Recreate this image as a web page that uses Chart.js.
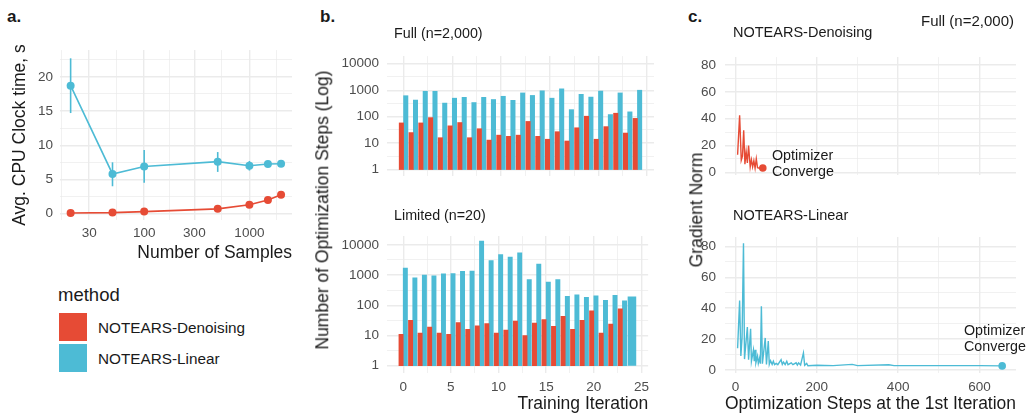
<!DOCTYPE html>
<html>
<head>
<meta charset="utf-8">
<script src="https://cdn.jsdelivr.net/npm/chart.js@4.4.1/dist/chart.umd.min.js"></script>
<style>
  body { margin: 0; width: 1028px; height: 415px; background: #fff; position: relative; overflow: hidden;
         font-family: 'Liberation Sans', Arial, sans-serif; color: #1a1a1a; }
  .box { position: absolute; z-index: 1; }
  .txt { position: absolute; z-index: 2; white-space: nowrap; line-height: 1; transform: translateY(-50%); }
  .rot { position: absolute; z-index: 2; white-space: nowrap; line-height: 1; transform: translate(-50%, -50%) rotate(-90deg); font-size: 17.5px; }
  .tag { font-weight: bold; font-size: 17px; }
  .strip { font-size: 14.3px; }
  .swatch { position: absolute; width: 28px; height: 28px; }
</style>
</head>
<body>
<!-- panel letters and strip labels -->
<div class="txt tag" style="left:7px; top:16px">a.</div>
<div class="txt tag" style="left:320px; top:16px">b.</div>
<div class="txt tag" style="left:688px; top:16px">c.</div>
<div class="txt strip" style="left:394px; top:33px">Full (n=2,000)</div>
<div class="txt strip" style="left:394px; top:215px">Limited (n=20)</div>
<div class="txt strip" style="left:733px; top:32px; font-size:14.5px">NOTEARS-Denoising</div>
<div class="txt strip" style="left:733px; top:215px; font-size:14.5px">NOTEARS-Linear</div>
<div class="txt strip" style="right:14px; top:20px; font-size:15px">Full (n=2,000)</div>
<div class="rot" style="left:323px; top:210px">Number of Optimization Steps (Log)</div>
<div class="rot" style="left:697px; top:210px">Gradient Norm</div>

<!-- annotations -->
<div class="txt strip" style="left:772px; top:155px">Optimizer</div>
<div class="txt strip" style="left:772px; top:171px">Converge</div>
<div class="txt strip" style="left:964px; top:330px">Optimizer</div>
<div class="txt strip" style="left:964px; top:346px">Converge</div>

<!-- legend -->
<div class="txt" style="left:58px; top:295px; font-size:18.5px">method</div>
<div class="swatch" style="left:59px; top:313px; background:#E64B35"></div>
<div class="swatch" style="left:59px; top:344px; background:#4DBBD5"></div>
<div class="txt" style="left:98px; top:328px; font-size:15.3px">NOTEARS-Denoising</div>
<div class="txt" style="left:98px; top:359px; font-size:15.3px">NOTEARS-Linear</div>

<div class="box" style="left:0px; top:35px; width:300px; height:230px"><canvas id="cpuChart"></canvas></div>
<div class="box" style="left:330px; top:40px; width:325px; height:152px"><canvas id="fullChart"></canvas></div>
<div class="box" style="left:330px; top:220px; width:325px; height:195px"><canvas id="limitedChart"></canvas></div>
<div class="box" style="left:665px; top:40px; width:355px; height:152px"><canvas id="denoGradChart"></canvas></div>
<div class="box" style="left:665px; top:220px; width:355px; height:195px"><canvas id="linGradChart"></canvas></div>

<script>
// ---- data ----
// panel a: CPU time vs number of samples
const samples = [20, 50, 100, 500, 1000, 1500, 2000];
const denoTime = [0.1, 0.15, 0.3, 0.7, 1.3, 2.0, 2.75];
const linearTime = [18.7, 5.8, 6.9, 7.6, 7.0, 7.25, 7.3];
const linearLow = [14.7, 4.0, 4.5, 6.1, 6.3, 7.0, 7.1];
const linearHigh = [22.7, 7.5, 9.3, 9.0, 7.7, 7.55, 7.5];
const sampleTicks = [30, 100, 300, 1000];
const timeTicks = [0, 5, 10, 15, 20];

// panel b: optimization steps per training iteration
const iterations = [0, 1, 2, 3, 4, 5, 6, 7, 8, 9, 10, 11, 12, 13, 14, 15, 16, 17, 18, 19, 20, 21, 22, 23, 24];
const fullDeno = [58, 25, 58, 92, 16, 45, 60, 16, 35, 13, 20, 18, 20, 66, 18, 14, 27, 12, 38, 104, 14, 42, 135, 24, 86];
const fullLinear = [620, 424, 910, 910, 326, 500, 537, 342, 537, 445, 590, 414, 790, 635, 950, 500, 1127, 184, 700, 550, 930, 120, 790, 152, 1000];
const limitedDeno = [11, 32, 12, 19, 12, 11, 27, 16, 21, 25, 12, 15, 30, 10, 26, 34, 20, 43, 16, 32, 66, 12, 24, 77, null];
const limitedLinear = [1700, 806, 1000, 953, 1100, 1127, 1334, 1366, 13300, 3015, 4750, 3930, 5500, 714, 2320, 590, 714, 200, 221, 182, 205, 147, 215, 140, 196];
const stepTicks = [1, 10, 100, 1000, 10000];
const iterTicks = [0, 5, 10, 15, 20, 25];

// panel c: gradient norm along the first iteration
const denoSteps = [5, 10, 14, 17, 20, 23, 26, 29, 32, 36, 39, 42, 45, 48, 51, 54, 59, 67];
const denoGrad = [13, 42.6, 9, 12, 31.4, 6, 15.4, 7, 20, 4, 9.4, 4, 8.6, 3, 10, 3.4, 3, 3.2];
const linSteps = [5, 10, 13, 16, 19.5, 22, 25, 29, 32, 37, 39, 44, 46, 48, 50, 54, 56, 59, 61, 63.5, 66, 73, 76, 80.5, 83, 86, 90, 93, 96,
  100, 104, 112, 115, 118, 122, 126, 129, 137, 141, 149, 152, 155, 160, 167, 170, 175, 178, 200, 240, 287, 300, 377, 390, 500, 600, 656];
const linGrad = [14, 45, 9, 21, 82, 7, 16, 27.7, 6.6, 26.7, 5.6, 13, 5.6, 13, 4.6, 9, 4.2, 7.6, 4, 41.2, 4, 20.7, 3.6, 18.7, 3.6, 6, 3.6, 5.6, 3.4,
  4.2, 3.4, 6.6, 3.6, 5, 3.4, 5.6, 3.4, 4.6, 3.4, 4.6, 3.2, 4.6, 3.2, 11, 3, 4.2, 2.7, 3, 2.8, 3.6, 2.8, 3.3, 2.8, 2.8, 2.8, 2.6];
const gradTicks = [0, 20, 40, 60, 80];
const optStepTicks = [0, 200, 400, 600];

// ---- styling ----
const RED = '#E64B35';
const BLUE = '#4DBBD5';
const GRID = '#ebebeb';
const INK = '#1a1a1a';
const DODGE = 0.225;

Chart.defaults.font.family = "'Liberation Sans', Arial, sans-serif";
Chart.defaults.color = '#4d4d4d';
Chart.defaults.animation = false;

// ggplot style minor breaks: midpoints between majors (geometric on log axes)
function minorsOf(majors, log) {
  const mid = (a, b) => log ? Math.sqrt(a * b) : (a + b) / 2;
  const out = [];
  const first = log ? majors[0] * majors[0] / majors[1] : 2 * majors[0] - majors[1];
  const n = majors.length;
  const last = log ? majors[n - 1] * majors[n - 1] / majors[n - 2] : 2 * majors[n - 1] - majors[n - 2];
  const all = [first].concat(majors, [last]);
  for (let i = 0; i < all.length - 1; i++) out.push(mid(all[i], all[i + 1]));
  return out;
}

function axis(o) {
  const log = o.type === 'logarithmic';
  const minors = minorsOf(o.majors, log);
  const cfg = {
    type: o.type || 'linear',
    min: o.min,
    max: o.max,
    offset: false,
    border: { display: false },
    grid: {
      color: GRID,
      offset: false,
      drawTicks: false,
      lineWidth: c => (c.tick && o.majors.includes(c.tick.value)) ? 1.4 : 0.7
    },
    ticks: {
      display: o.labels !== false,
      autoSkip: false,
      maxRotation: 0,
      padding: o.tickPad || 6,
      color: '#4d4d4d',
      font: { size: 13.5 },
      callback: v => o.majors.includes(v) ? String(v) : ''
    },
    afterBuildTicks: s => {
      s.ticks = o.majors.concat(minors)
        .filter(v => v >= s.min && v <= s.max)
        .sort((a, b) => a - b)
        .map(v => ({ value: v }));
    },
    afterFit: s => {
      if (o.horizontal) s.height = o.size; else s.width = o.size;
    },
    title: { display: false }
  };
  if (o.title) {
    cfg.title = {
      display: true,
      text: o.title,
      color: INK,
      font: { size: 17.5 },
      align: o.titleAlign || 'center',
      padding: o.titlePad
    };
  }
  return cfg;
}

function baseOptions(x, y, pad) {
  return {
    responsive: true,
    maintainAspectRatio: false,
    animation: false,
    layout: { padding: pad },
    plugins: { legend: { display: false }, tooltip: { enabled: false } },
    scales: { x: x, y: y }
  };
}

// ---- panel a ----
const errorBars = {
  id: 'errorBars',
  beforeDatasetsDraw(chart) {
    const { ctx, scales: { x, y } } = chart;
    ctx.save();
    ctx.strokeStyle = BLUE;
    ctx.lineWidth = 1.6;
    samples.forEach((n, i) => {
      const px = x.getPixelForValue(n);
      ctx.beginPath();
      ctx.moveTo(px, y.getPixelForValue(linearLow[i]));
      ctx.lineTo(px, y.getPixelForValue(linearHigh[i]));
      ctx.stroke();
    });
    ctx.restore();
  }
};

new Chart(document.getElementById('cpuChart'), {
  type: 'line',
  data: {
    datasets: [
      {
        label: 'NOTEARS-Denoising',
        data: samples.map((n, i) => ({ x: n, y: denoTime[i] })),
        borderColor: RED, backgroundColor: RED, borderWidth: 1.6,
        pointRadius: 4, pointBorderWidth: 0, pointBackgroundColor: RED
      },
      {
        label: 'NOTEARS-Linear',
        data: samples.map((n, i) => ({ x: n, y: linearTime[i] })),
        borderColor: BLUE, backgroundColor: BLUE, borderWidth: 1.6,
        pointRadius: 4, pointBorderWidth: 0, pointBackgroundColor: BLUE
      }
    ]
  },
  options: baseOptions(
    axis({ type: 'logarithmic', min: Math.pow(10, 1.2), max: Math.pow(10, 3.405), majors: sampleTicks,
      horizontal: true, size: 45, tickPad: 5, title: 'Number of Samples', titleAlign: 'end', titlePad: { bottom: 1.5 } }),
    axis({ min: -0.93, max: 23.9, majors: timeTicks, size: 60, tickPad: 7,
      title: 'Avg. CPU Clock time, s', titlePad: { top: 9.5 } }),
    { top: 8, right: 8, left: 0, bottom: 0 }
  ),
  plugins: [errorBars]
});

// ---- panel b ----
function barDatasets(deno, linear) {
  const red = [], blue = [], soloBlue = [];
  iterations.forEach((it, i) => {
    if (deno[i] != null && linear[i] != null) {
      red.push({ x: it - DODGE, y: [1, deno[i]] });
      blue.push({ x: it + DODGE, y: [1, linear[i]] });
    } else if (linear[i] != null) {
      soloBlue.push({ x: it, y: [1, linear[i]] });
    }
  });
  const common = { grouped: false, barPercentage: 1, categoryPercentage: 1, borderWidth: 0 };
  return [
    Object.assign({ label: 'NOTEARS-Denoising', data: red, backgroundColor: RED }, common),
    Object.assign({ label: 'NOTEARS-Linear', data: blue, backgroundColor: BLUE }, common),
    Object.assign({ label: 'NOTEARS-Linear', data: soloBlue, backgroundColor: BLUE }, common, { categoryPercentage: 2 })
  ];
}

const stepMin = Math.pow(10, -0.24);
const stepMax = Math.pow(10, 4.29);

new Chart(document.getElementById('fullChart'), {
  type: 'bar',
  data: { datasets: barDatasets(fullDeno, fullLinear) },
  options: baseOptions(
    axis({ min: -1.7, max: 25.7, majors: iterTicks, horizontal: true, size: 0, labels: false }),
    axis({ type: 'logarithmic', min: stepMin, max: stepMax, majors: stepTicks, size: 57, tickPad: 8 }),
    { top: 7, right: 1, left: 0, bottom: 0 }
  )
});

new Chart(document.getElementById('limitedChart'), {
  type: 'bar',
  data: { datasets: barDatasets(limitedDeno, limitedLinear) },
  options: baseOptions(
    axis({ min: -1.7, max: 25.7, majors: iterTicks, horizontal: true, size: 42, tickPad: 6,
      title: 'Training Iteration', titleAlign: 'end', titlePad: { bottom: 0 } }),
    axis({ type: 'logarithmic', min: stepMin, max: stepMax, majors: stepTicks, size: 57, tickPad: 8 }),
    { top: 7, right: 1, left: 0, bottom: 0 }
  )
});

// ---- panel c ----
function gradDataset(steps, grad, color) {
  return {
    data: steps.map((s, i) => ({ x: s, y: grad[i] })),
    borderColor: color,
    backgroundColor: color,
    borderWidth: 1.4,
    tension: 0,
    pointBorderWidth: 0,
    pointBackgroundColor: color,
    pointRadius: ctx => ctx.dataIndex === steps.length - 1 ? 3.8 : 0
  };
}

new Chart(document.getElementById('denoGradChart'), {
  type: 'line',
  data: { datasets: [gradDataset(denoSteps, denoGrad, RED)] },
  options: baseOptions(
    axis({ min: -26, max: 690, majors: optStepTicks, horizontal: true, size: 0, labels: false }),
    axis({ min: -2, max: 86, majors: gradTicks, size: 60, tickPad: 9 }),
    { top: 7, right: 3, left: 0, bottom: 0 }
  )
});

new Chart(document.getElementById('linGradChart'), {
  type: 'line',
  data: { datasets: [gradDataset(linSteps, linGrad, BLUE)] },
  options: baseOptions(
    axis({ min: -26, max: 690, majors: optStepTicks, horizontal: true, size: 42, tickPad: 6,
      title: 'Optimization Steps at the 1st Iteration', titleAlign: 'end', titlePad: { bottom: 0 } }),
    axis({ min: -2, max: 86, majors: gradTicks, size: 60, tickPad: 9 }),
    { top: 7, right: 3, left: 0, bottom: 0 }
  )
});
</script>
</body>
</html>
